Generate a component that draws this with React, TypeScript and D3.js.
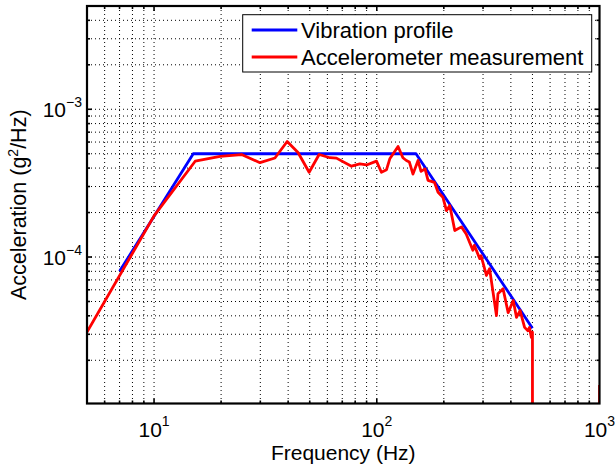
import React from 'react';
import * as d3 from 'd3';

// ---- Data ----
const profileFreq = [7, 15, 150, 500];
const profileAccel = [8e-5, 5e-4, 5e-4, 3.3e-5];

const measFreq = [
  5, 10, 15.3, 19.8, 24.7, 29.9, 34.9, 39.6, 44.3, 49.7, 55.1, 61.5, 65.9, 77, 83.9, 90, 99.7,
  104.9, 110.6, 114.4, 118.5, 124.6, 131, 135.8, 140, 145.4, 153.2, 158, 164.7, 169.9, 181.5,
  188.4, 198, 205.5, 212.7, 224, 240, 252, 270, 274, 290, 294, 310.6, 321, 344.6, 350, 369,
  389, 410, 424, 440, 461, 477, 485, 494, 500, 500.5, 998, 1000,
];
const measAccel = [
  3.1e-5, 1.9e-4, 4.45e-4, 4.8e-4, 4.94e-4, 4.35e-4, 4.68e-4, 6.05e-4, 5.1e-4, 3.75e-4, 4.94e-4,
  4.7e-4, 4.67e-4, 4.12e-4, 4.27e-4, 4.2e-4, 4.46e-4, 3.75e-4, 3.9e-4, 4.62e-4, 5.0e-4,
  5.6e-4, 4.7e-4, 4.5e-4, 4.4e-4, 3.64e-4, 4.5e-4, 3.8e-4, 3.95e-4, 3.3e-4, 3.2e-4,
  2.74e-4, 2.54e-4, 2.06e-4, 2.23e-4, 1.51e-4, 1.6e-4, 1.43e-4, 1.11e-4, 1.2e-4, 9.75e-5,
  1.02e-4, 7.5e-5, 8.34e-5, 4.02e-5, 5.64e-5, 6.1e-5, 4.2e-5, 5.08e-5, 3.9e-5, 4.34e-5,
  3.34e-5, 3.17e-5, 3.34e-5, 2.86e-5, 3.1e-5, 1e-9, 1e-9, 1.36e-5,
];

const xMajorTicks = [10, 100, 1000];
const xMajorExp = ['1', '2', '3'];
const yMajorTicks = [1e-4, 1e-3];
const yMajorExp = ['\u22124', '\u22123'];
const legendLabels = ['Vibration profile', 'Accelerometer measurement'];
const seriesColors = ['#0000ff', '#ff0000'];

const xDomain = [5, 1000];
const yDomain = [1.02e-5, 5e-3];

const W = 615;
const H = 466;
const M = { left: 87, right: 599.5, top: 6, bottom: 403.5 };
const FONT = "'Liberation Sans', Arial, Helvetica, sans-serif";

export default function App() {
  const x = d3.scaleLog().domain(xDomain).range([M.left, M.right]);
  const y = d3.scaleLog().domain(yDomain).range([M.bottom, M.top]);

  const xGrid = x.ticks().filter((v) => v > xDomain[0] + 1e-9 && v < xDomain[1] - 1e-9);
  const yGrid = y.ticks().filter((v) => v > yDomain[0] && v < yDomain[1] * 0.999);
  const isMajor = (v: number) => Math.abs(Math.log10(v) - Math.round(Math.log10(v))) < 1e-6;

  const line = d3
    .line<[number, number]>()
    .x((d) => x(d[0]))
    .y((d) => y(d[1]));

  const profile = profileFreq.map((f, i) => [f, profileAccel[i]] as [number, number]);
  const meas = measFreq.map((f, i) => [f, measAccel[i]] as [number, number]);

  const gridStyle = { stroke: '#000', strokeWidth: 1, strokeDasharray: '1,3', fill: 'none' };

  const lx0 = 251.7;
  const lx1 = 297.3;
  const legendY = [30, 57];

  return (
    <svg
      width={W}
      height={H}
      style={{ position: 'absolute', left: 0, top: 0, background: '#fff' }}
      fontFamily={FONT}
    >
      <defs>
        <clipPath id="plotClip">
          <rect x={M.left} y={M.top} width={M.right - M.left} height={M.bottom - M.top} />
        </clipPath>
      </defs>
      <rect x={0} y={0} width={W} height={H} fill="#fff" />
      {/* grid */}
      <g>
        {xGrid.map((v) => (
          <line key={'gx' + v} x1={x(v)} x2={x(v)} y1={M.top} y2={M.bottom} style={gridStyle} />
        ))}
        {yGrid.map((v) => (
          <line key={'gy' + v} x1={M.left} x2={M.right} y1={y(v)} y2={y(v)} style={gridStyle} />
        ))}
      </g>
      {/* ticks */}
      <g stroke="#000" strokeWidth={1.6}>
        {xGrid.map((v) => {
          const L = isMajor(v) ? 5 : 3;
          return (
            <g key={'tx' + v}>
              <line x1={x(v)} x2={x(v)} y1={M.bottom} y2={M.bottom - L} />
              <line x1={x(v)} x2={x(v)} y1={M.top} y2={M.top + L} />
            </g>
          );
        })}
        {yGrid.map((v) => {
          const L = isMajor(v) ? 5 : 3;
          return (
            <g key={'ty' + v}>
              <line x1={M.left} x2={M.left + L} y1={y(v)} y2={y(v)} />
              <line x1={M.right} x2={M.right - L} y1={y(v)} y2={y(v)} />
            </g>
          );
        })}
      </g>
      {/* series */}
      <g clipPath="url(#plotClip)">
        <path d={line(profile) || ''} fill="none" stroke={seriesColors[0]} strokeWidth={2.8} strokeLinejoin="round" />
        <path d={line(meas) || ''} fill="none" stroke={seriesColors[1]} strokeWidth={2.8} strokeLinejoin="round" />
      </g>
      {/* frame */}
      <rect
        x={M.left}
        y={M.top}
        width={M.right - M.left}
        height={M.bottom - M.top}
        fill="none"
        stroke="#000"
        strokeWidth={2.2}
      />
      {/* x tick labels */}
      {xMajorTicks.map((v, i) => (
        <text key={'xl' + v} x={x(v)} y={437} textAnchor="middle" fontSize={21} fill="#000">
          10
          <tspan dy={-11} fontSize={14}>
            {xMajorExp[i]}
          </tspan>
        </text>
      ))}
      {/* y tick labels */}
      {yMajorTicks.map((v, i) => (
        <text key={'yl' + v} x={82} y={y(v) + 7.5} textAnchor="end" fontSize={21} fill="#000">
          10
          <tspan dy={-10} fontSize={14}>
            {yMajorExp[i]}
          </tspan>
        </text>
      ))}
      {/* axis titles */}
      <text x={(M.left + M.right) / 2} y={460} textAnchor="middle" fontSize={21} fill="#000">
        Frequency (Hz)
      </text>
      <text
        transform={`translate(26, ${(M.top + M.bottom) / 2}) rotate(-90)`}
        textAnchor="middle"
        fontSize={21.5}
        fill="#000"
      >
        Acceleration (g
        <tspan dy={-8} fontSize={14}>
          2
        </tspan>
        <tspan dy={8}>/Hz)</tspan>
      </text>
      {/* legend */}
      <g>
        <rect x={242.7} y={14.7} width={349} height={57.3} fill="#fff" stroke="#000" strokeWidth={1} />
        {legendLabels.map((lab, i) => (
          <g key={lab}>
            <line x1={lx0} x2={lx1} y1={legendY[i]} y2={legendY[i]} stroke={seriesColors[i]} strokeWidth={2.8} />
            <text x={301} y={legendY[i] + 8} fontSize={22} fill="#000">
              {lab}
            </text>
          </g>
        ))}
      </g>
    </svg>
  );
}
